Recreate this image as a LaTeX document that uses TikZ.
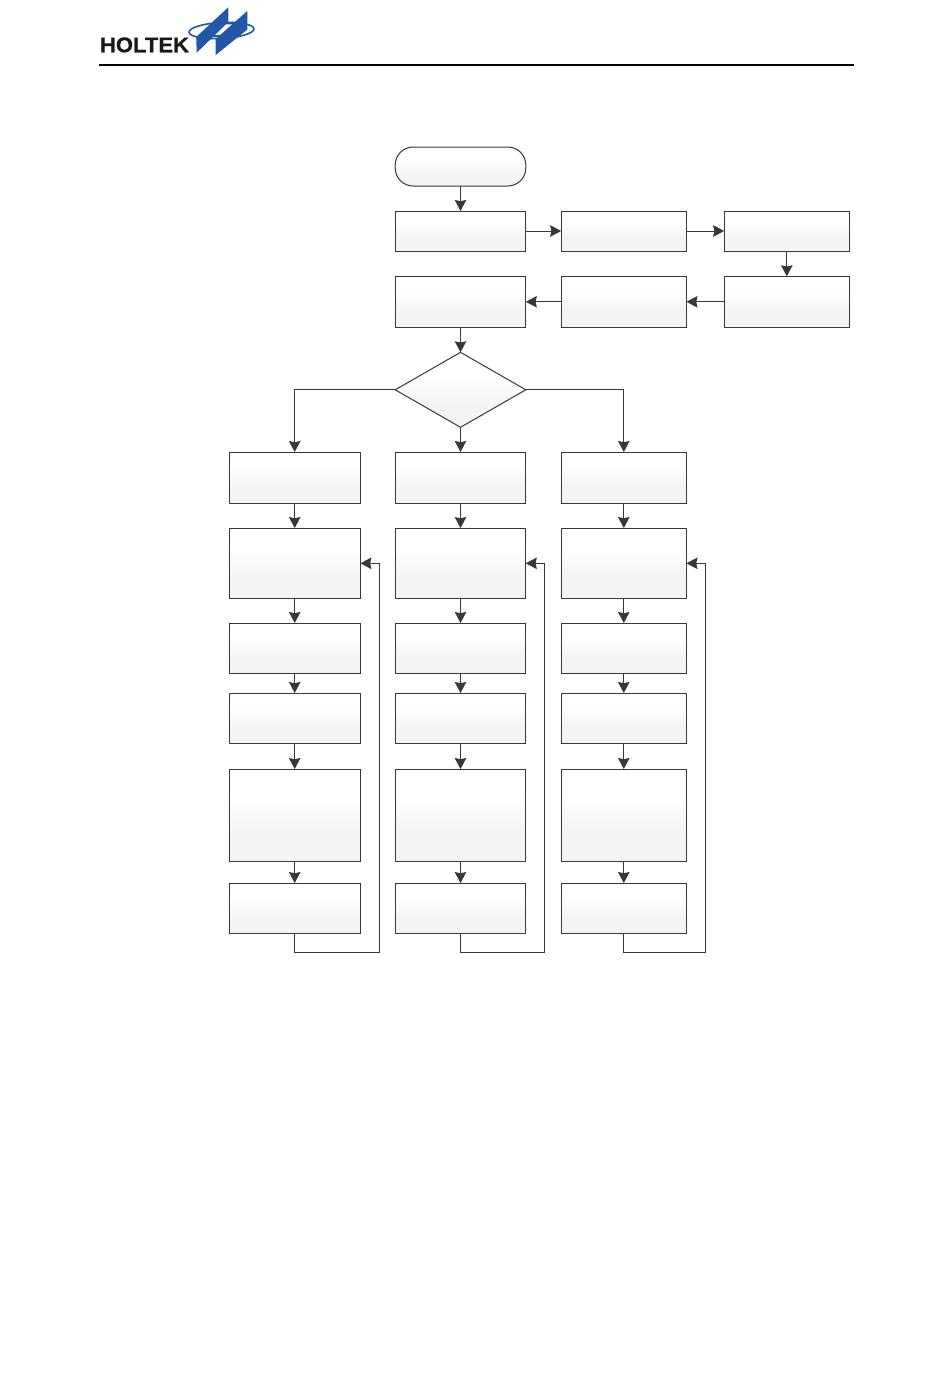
\documentclass[tikz,border=0pt]{standalone}
\usepackage{fontspec}
\setmainfont{Liberation Sans}[BoldFeatures={FakeBold=0.6}]
\usetikzlibrary{arrows.meta,shapes.geometric}
\definecolor{lineC}{HTML}{383838}
\definecolor{logoblue}{HTML}{2157A6}
\pgfdeclareverticalshading{boxfade}{100bp}{
  color(0bp)=(black!4.5); color(25bp)=(black!4.5); color(40bp)=(black!4.5);
  color(60bp)=(white); color(100bp)=(white)}
\tikzset{
  flowbox/.style={draw=lineC,line width=1pt,shading=boxfade,inner sep=0pt,outer sep=0pt},
  conn/.style={draw=lineC,line width=1pt,-{Stealth[length=11pt,width=11.5pt,inset=1.2pt,fill=lineC]}},
  logofill/.style={fill=logoblue,draw=none}
}
\begin{document}
\begin{tikzpicture}[x=1pt,y=-1pt]
\useasboundingbox[fill=white] (0,0) rectangle (950,1387);
% header logo
\node[inner sep=0pt,anchor=base,xscale=1.03] (brand) at (144.5,52.3) {\fontsize{21.4}{21.4}\selectfont\bfseries\color{black!90}HOLTEK};
\draw[logoblue,line width=1.6pt,rotate around={3:(221.5,30.5)}] (221.5,30.5) ellipse (32.5pt and 8pt);
\fill[logofill] (228.3,7.3) -- (228.3,22) -- (196.7,52.7) -- (196.2,37) -- cycle;
\fill[logofill] (247.3,11) -- (247.3,29.5) -- (215.7,55) -- (215.7,39) -- cycle;
\fill[logofill] (222,22.5) -- (236,22.5) -- (234,24.3) -- (220,24.3) -- cycle;
\fill[logofill] (210,35) -- (226,35) -- (224,37) -- (208,37) -- cycle;
\coordinate (ruleL) at (99,65);
\coordinate (ruleR) at (854,65);
\draw[black,line width=1.8pt] (ruleL) -- (ruleR);
% top part
\node[flowbox,rounded corners=18pt,minimum width=130.6pt,minimum height=39pt] (start) at (460.5,166.5) {};
\node[flowbox,minimum width=130.6pt,minimum height=40pt] (p1) at (460.5,231) {};
\node[flowbox,minimum width=125.3pt,minimum height=40pt] (p2) at (623.8,231) {};
\node[flowbox,minimum width=125.3pt,minimum height=40pt] (p3) at (786.8,231) {};
\node[flowbox,minimum width=125.3pt,minimum height=51pt] (q3) at (786.8,301.8) {};
\node[flowbox,minimum width=125.3pt,minimum height=51pt] (q2) at (623.8,301.8) {};
\node[flowbox,minimum width=130.6pt,minimum height=51pt] (q1) at (460.5,301.8) {};
\node[flowbox,shape=diamond,shape aspect=1.741,minimum width=130.6pt,minimum height=75pt] (dec) at (460.5,389.8) {};
\draw[conn] (start) -- (p1);
\draw[conn] (p1) -- (p2);
\draw[conn] (p2) -- (p3);
\draw[conn] (p3) -- (q3);
\draw[conn] (q3) -- (q2);
\draw[conn] (q2) -- (q1);
\draw[conn] (q1) -- (dec);
% three columns
\foreach \c/\x/\w/\r in {a/294.7/131.3/379.7,b/460.5/130.6/544.4,c/623.8/125.3/705.4}{
  \node[flowbox,minimum width=\w pt,minimum height=51pt] (\c1) at (\x,477.5) {};
  \node[flowbox,minimum width=\w pt,minimum height=70.5pt] (\c2) at (\x,563.3) {};
  \node[flowbox,minimum width=\w pt,minimum height=50pt] (\c3) at (\x,648) {};
  \node[flowbox,minimum width=\w pt,minimum height=50pt] (\c4) at (\x,718) {};
  \node[flowbox,minimum width=\w pt,minimum height=92pt] (\c5) at (\x,815) {};
  \node[flowbox,minimum width=\w pt,minimum height=50.5pt] (\c6) at (\x,908.3) {};
  \coordinate (\c r) at (\r,952);
  \draw[conn] (\c1) -- (\c2);
  \draw[conn] (\c2) -- (\c3);
  \draw[conn] (\c3) -- (\c4);
  \draw[conn] (\c4) -- (\c5);
  \draw[conn] (\c5) -- (\c6);
  \draw[conn] (\c6.south) |- (\c r) |- (\c2.east);
}
\draw[conn] (dec.west) -| (a1.north);
\draw[conn] (dec.south) -- (b1.north);
\draw[conn] (dec.east) -| (c1.north);
\end{tikzpicture}
\end{document}
